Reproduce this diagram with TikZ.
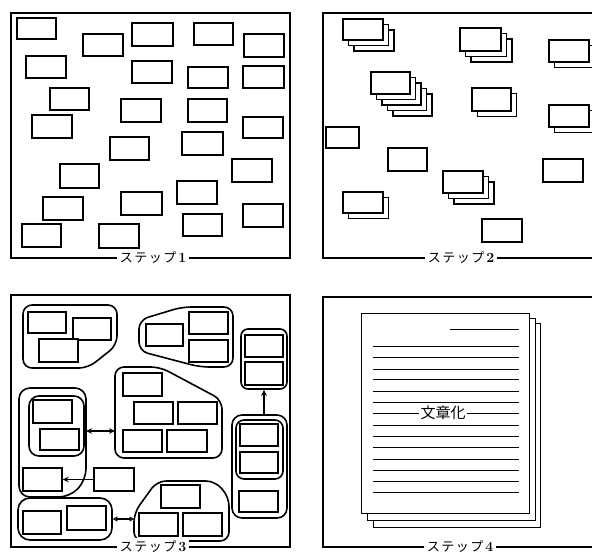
\documentclass[tikz,border=0pt]{standalone}
\usepackage{fontspec}
\newfontfamily\jp{Noto Sans CJK JP}
\usetikzlibrary{fit,arrows.meta}
\tikzset{
  bx/.style={draw, line width=1.1pt, inner sep=0pt, fill=white},
  bxb/.style={draw, line width=1.4pt, inner sep=0pt, fill=white},
  panel/.style={draw, line width=1.2pt},
  grp/.style={draw, line width=1.6pt, rounded corners=9pt, inner sep=0pt},
  steplabel/.style={fill=white, inner sep=3pt, font=\jp\fontsize{13}{13}\selectfont},
  txtline/.style={line width=1pt},
  pagebox/.style={draw, line width=1pt, fill=white, inner sep=0pt},
  conn/.style={line width=1.5pt, -{Stealth[length=6pt,width=5.5pt]}},
  dconn/.style={line width=1.5pt, {Stealth[length=6pt,width=5.5pt]}-{Stealth[length=6pt,width=5.5pt]}},
  tconn/.style={line width=1.5pt, {Triangle[open,length=4.5pt,width=5pt]}-{Triangle[open,length=4.5pt,width=5pt]}}
}
\newcommand\B[5]{\node[bx, fit={(#2,#3) (#4,#5)}] (#1) {};}
\newcommand\BB[5]{\node[bxb, fit={(#2,#3) (#4,#5)}] (#1) {};}
\newcommand\steptext[1]{ス\hspace{1.5pt}テ\hspace{1.5pt}ッ\hspace{1.5pt}プ\hspace{2pt}{\rmfamily\bfseries\fontsize{14}{14}\selectfont #1}}
% stack: name, x1,y1,x2,y2, number of back layers
\newcommand\Stk[6]{%
  \foreach \k in {#6,...,1}{%
    \pgfmathsetmacro\d{\k*5.5}%
    \node[bx, fit={(#2+\d,#3+\d) (#4+\d,#5+\d)}] (#1-\k) {};
  }%
  \node[bx, fit={(#2,#3) (#4,#5)}] (#1) {};%
}
\begin{document}
\begin{tikzpicture}[x=1pt,y=-1pt]
\useasboundingbox (0,0) rectangle (592,557);
\clip (0,0) rectangle (592,557);

% ---------------- Panel 1 ----------------
\draw[panel] (11,13) rectangle (290,258);
\B{a1}{17}{18}{56}{39}
\B{a2}{83}{34}{123}{56}
\B{a3}{132}{23}{173}{46}
\B{a4}{194}{23}{233}{45}
\B{a5}{244}{34}{284}{57}
\B{a6}{26}{56}{66}{78}
\B{a7}{132}{61}{172}{83}
\B{a8}{188}{67}{228}{88}
\B{a9}{243}{66}{284}{88}
\B{a10}{50}{88}{89}{110}
\B{a11}{121}{99}{161}{122}
\B{a12}{188}{99}{227}{122}
\B{a13}{32}{115}{72}{138}
\B{a14}{243}{117}{283}{138}
\B{a15}{110}{137}{149}{160}
\B{a16}{182}{132}{223}{155}
\B{a17}{60}{164}{99}{188}
\B{a18}{232}{159}{272}{182}
\B{a19}{177}{181}{217}{204}
\B{a20}{43}{197}{83}{220}
\B{a21}{121}{192}{162}{215}
\B{a22}{243}{204}{283}{227}
\B{a23}{22}{224}{61}{247}
\B{a24}{99}{224}{139}{248}
\B{a25}{183}{214}{222}{236}
\node[steplabel] (s1) at (153,258) {\steptext{1}};

% ---------------- Panel 2 ----------------
\draw[panel] (600,13) -- (323,13) -- (323,258) -- (600,258);
\Stk{bA}{343}{19}{383}{40}{2}
\Stk{bB}{460}{28}{501}{51}{2}
\Stk{bC}{549}{40}{589}{62}{1}
\Stk{bD}{371}{72}{410}{94}{4}
\Stk{bE}{472}{88}{511}{111}{1}
\Stk{bF}{549}{105}{589}{127}{1}
\B{bG}{326}{127}{359}{148}
\B{bH}{388}{148}{427}{171}
\Stk{bI}{443}{171}{483}{193}{2}
\B{bJ}{543}{159}{583}{182}
\Stk{bK}{343}{192}{383}{213}{1}
\B{bL}{482}{219}{522}{242}
\node[steplabel] (s2) at (461,258) {\steptext{2}};

% ---------------- Panel 3 ----------------
\draw[panel] (11,295) rectangle (290,547);
% group 1
\draw[grp] (23,305) -- (117,305) -- (117,345) -- (88,368) -- (23,368) -- cycle;
\BB{c1}{28}{312}{66}{333}
\BB{c2}{73}{318}{111}{340}
\BB{c3}{39}{339}{78}{362}
% group 2
\draw[grp] (139,320) -- (182,307) -- (233,307) -- (233,367) -- (200,367) -- (139,351) -- cycle;
\BB{c4}{146}{324}{183}{346}
\BB{c5}{189}{312}{228}{334}
\BB{c6}{189}{340}{228}{362}
% group 3
\node[grp, rounded corners=7pt, fit={(241,329) (287,389)}] (g3) {};
\BB{c7}{245}{335}{283}{357}
\BB{c8}{245}{362}{283}{385}
% group 4
\draw[grp] (115,367) -- (160,367) -- (222,400) -- (222,458) -- (115,458) -- cycle;
\coordinate (g4w) at (115,431);
\BB{c9}{123}{373}{162}{396}
\BB{c10}{134}{402}{173}{424}
\BB{c11}{178}{402}{217}{424}
\BB{c12}{123}{430}{162}{452}
\BB{c13}{167}{430}{207}{452}
% group 5
\draw[grp, rounded corners=11pt] (19,388) -- (86,388) -- (86,480) -- (70,497) -- (19,497) -- cycle;
\coordinate (g5e) at (86,431);
\node[grp, rounded corners=10pt, fit={(29,396) (84,456)}] (g5i) {};
\BB{c14}{33}{400}{72}{423}
\BB{c15}{40}{429}{79}{450}
\BB{c16}{23}{468}{62}{491}
\BB{cM}{94}{468}{134}{491}
% group 6
\node[grp, rounded corners=10pt, fit={(232,415) (287,518)}] (g6) {};
\node[grp, rounded corners=8pt, fit={(236,420) (283,479)}] (g6i) {};
\BB{c17}{240}{424}{278}{446}
\BB{c18}{240}{452}{278}{473}
\BB{c19}{239}{491}{278}{512}
% group 7
\node[grp, rounded corners=12pt, fit={(18,498) (112,540)}] (g7) {};
\BB{c20}{23}{511}{61}{534}
\BB{c21}{67}{506}{106}{530}
% group 8
\draw[grp] (134,513) -- (157,481) -- (215,481) -- (229,497) -- (229,541) -- (134,541) -- cycle;
\coordinate (g8w) at (134,519);
\BB{c22}{161}{485}{200}{508}
\BB{c23}{139}{513}{178}{536}
\BB{c24}{183}{513}{222}{536}
% connectors
\draw[dconn] (g5e) -- (g4w);
\draw[conn] (cM.west) -- (c16.east);
\draw[conn] (g3.south |- g6.north) -- (g3.south);
\draw[tconn] (g7.east) -- (g8w);
\node[steplabel] (s3) at (153,547) {\steptext{3}};

% ---------------- Panel 4 ----------------
\draw[panel] (600,297) -- (323,297) -- (323,547) -- (600,547);
\node[pagebox, fit={(373,323) (540,527)}] (p3) {};
\node[pagebox, fit={(367,318) (535,520)}] (p2) {};
\node[pagebox, fit={(361,313) (529,513)}] (p1) {};
\draw[txtline] (450,329) -- (519,329);
\foreach \yy in {346,357,369,379,391,402,425,436,447,459,470,481,492}
  \draw[txtline] (373,\yy) -- (519,\yy);
\node[fill=white, inner sep=1.5pt, font=\jp\fontsize{15}{15}\selectfont] (t) at (443,413) {文章化};
\draw[txtline] (373,413) -- (t.west);
\draw[txtline] (t.east) -- (519,413);
\node[steplabel] (s4) at (460,547) {\steptext{4}};
\end{tikzpicture}
\end{document}
